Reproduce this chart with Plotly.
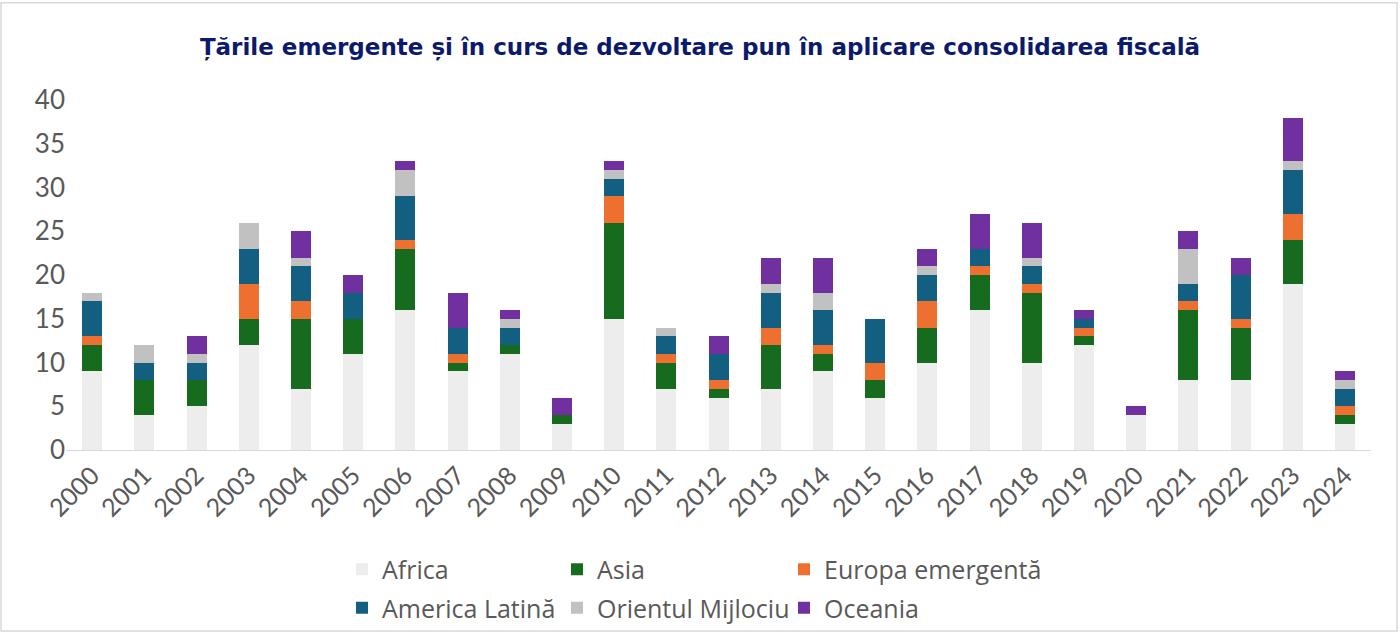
import plotly.graph_objects as go

years = [str(y) for y in range(2000, 2025)]

africa = [9, 4, 5, 12, 7, 11, 16, 9, 11, 3, 15, 7, 6, 7, 9, 6, 10, 16, 10, 12, 4, 8, 8, 19, 3]
asia = [3, 4, 3, 3, 8, 4, 7, 1, 1, 1, 11, 3, 1, 5, 2, 2, 4, 4, 8, 1, 0, 8, 6, 5, 1]
europa = [1, 0, 0, 4, 2, 0, 1, 1, 0, 0, 3, 1, 1, 2, 1, 2, 3, 1, 1, 1, 0, 1, 1, 3, 1]
america_latina = [4, 2, 2, 4, 4, 3, 5, 3, 2, 0, 2, 2, 3, 4, 4, 5, 3, 2, 2, 1, 0, 2, 5, 5, 2]
orientul = [1, 2, 1, 3, 1, 0, 3, 0, 1, 0, 1, 1, 0, 1, 2, 0, 1, 0, 1, 0, 0, 4, 0, 1, 1]
oceania = [0, 0, 2, 0, 3, 2, 1, 4, 1, 2, 1, 0, 2, 3, 4, 0, 2, 4, 4, 1, 1, 2, 2, 5, 1]

# legend columns: (legend id) -> column
series = [
    ("Africa", africa, "#ededed", "legend"),
    ("Asia", asia, "#176b1f", "legend2"),
    ("Europa emergentă", europa, "#ed7031", "legend3"),
    ("America Latină", america_latina, "#135f82", "legend"),
    ("Orientul Mijlociu", orientul, "#c1c1c1", "legend2"),
    ("Oceania", oceania, "#7030a0", "legend3"),
]

title_text = "Țările emergente și în curs de dezvoltare pun în aplicare consolidarea fiscală"

fig = go.Figure()
for name, vals, col, lg in series:
    fig.add_trace(go.Bar(
        x=years, y=vals, name=name, marker=dict(color=col, line=dict(width=0)),
        legend=lg, legendgroup=name,
    ))

W, H = 1400, 642
L, R, T, B = 66, 29, 100, 186
pw = W - L - R
ph = H - T - B

def px_x(p):
    return (p - L) / pw

def px_y(p):
    return (H - B - p) / ph

legend_font = dict(family="Open Sans, Lato, sans-serif", size=25, color="#595959")

def col_legend(px_left):
    return dict(
        orientation="v",
        x=px_x(px_left), xanchor="left",
        y=px_y(597), yanchor="middle",
        font=legend_font,
        traceorder="grouped",
        tracegroupgap=3,
        bgcolor="rgba(0,0,0,0)",
    )

fig.update_layout(
    width=W, height=H,
    margin=dict(l=L, r=R, t=T, b=B),
    barmode="stack",
    bargap=0.617,
    plot_bgcolor="white",
    paper_bgcolor="white",
    title=dict(
        text="<b>" + title_text + "</b>",
        x=px_x(700), xref="paper", xanchor="center",
        y=1 - 47 / H, yanchor="middle",
        font=dict(family="DejaVu Sans, Liberation Sans, sans-serif", size=23, color="#0c1a6b"),
    ),
    xaxis=dict(
        type="category",
        tickangle=-45,
        tickfont=dict(family="Lato, Open Sans, sans-serif", size=25, color="#595959"),
        showgrid=False,
        showline=True, linecolor="#d9d9d9", linewidth=1,
        ticks="",
        zeroline=False,
    ),
    yaxis=dict(
        range=[0, 40],
        dtick=5,
        tickfont=dict(family="Lato, Open Sans, sans-serif", size=26, color="#595959"),
        showgrid=False,
        showline=False,
        zeroline=False,
        ticks="",
    ),
    legend=col_legend(342),
    legend2=col_legend(557),
    legend3=col_legend(784),
    shapes=[dict(
        type="rect", xref="paper", yref="paper",
        x0=px_x(1), x1=px_x(1397), y0=px_y(640), y1=px_y(1),
        line=dict(color="#d9d9d9", width=1.5), fillcolor="rgba(0,0,0,0)",
        layer="below",
    )],
)

fig.write_html(
    "out.html",
    config={"displayModeBar": False},
    post_script="document.body.style.margin='0';document.body.style.padding='0';",
)
